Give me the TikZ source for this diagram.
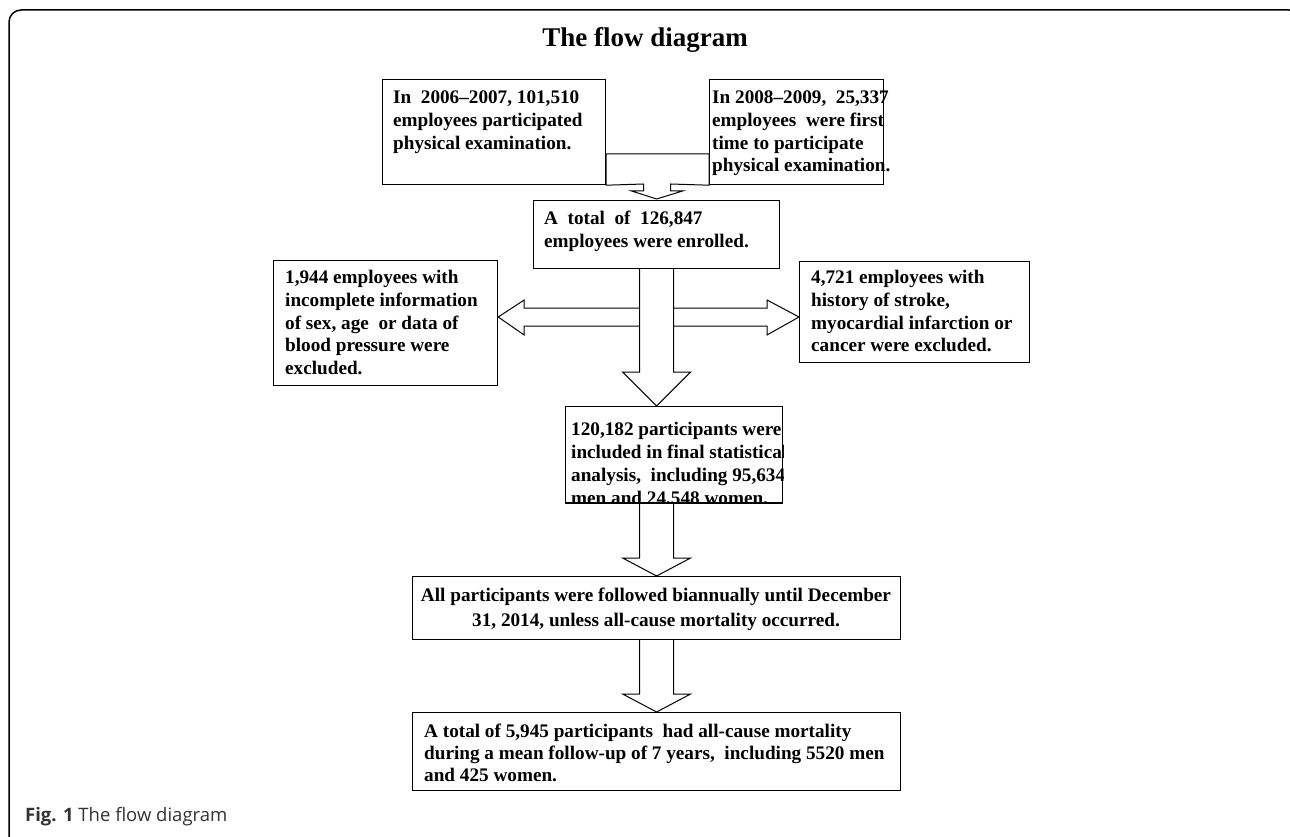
\documentclass[tikz,border=0pt]{standalone}
\usepackage{fontspec}
\setmainfont{Liberation Serif}
\newfontfamily\capfont{Open Sans}
\usetikzlibrary{calc}
\begin{document}
\begin{tikzpicture}[x=1pt,y=-1pt,
  box/.style={draw=black,line width=1.2pt,fill=white,inner sep=0pt,anchor=north west},
  txt/.style={inner sep=0pt,anchor=north west,align=left,font=\fontsize{19.2}{22.7}\selectfont\bfseries},
  blk/.style={draw=black,line width=1pt,fill=white,line join=miter}]
\useasboundingbox (0,0) rectangle (1290,837);
\clip (0,0) rectangle (1290,837);
\fill[white] (0,0) rectangle (1290,837);
\draw[line width=1.5pt,rounded corners=12pt] (9,850) -- (9,10) -- (1301,10) -- (1301,850);

\node[anchor=base,font=\fontsize{27}{30}\selectfont\bfseries] (title) at (645,47) {The flow diagram};

% boxes
\node[box,minimum width=223pt,minimum height=105pt] (a) at (382,79) {};
\node[box,minimum width=174pt,minimum height=105pt] (b) at (709,79) {};
\node[box,minimum width=246pt,minimum height=68pt] (c) at (533,200) {};
\node[box,minimum width=224pt,minimum height=125pt] (e) at (273,260) {};
\node[box,minimum width=230pt,minimum height=101pt] (f) at (799,261) {};
\node[box,minimum width=217pt,minimum height=96pt] (d) at (565,406) {};
\node[box,minimum width=488pt,minimum height=63pt] (g) at (412,576) {};
\node[box,minimum width=488pt,minimum height=78pt] (h) at (412,712) {};

% merge arrow between the two top boxes
\draw[blk] ($(a.north east)+(0,75)$) -- ($(b.north west)+(0,75)$) -- (b.south west)
  -- ($(c.north)+(14,-16)$) -- ($(c.north)+(14,-9)$) -- ($(c.north)+(26,-9)$)
  -- ($(c.north)+(0,-1)$) -- ($(c.north)+(-25,-9)$) -- ($(c.north)+(-13,-9)$)
  -- ($(c.north)+(-13,-16)$) -- (a.south east) -- cycle;

% side arrows
\coordinate (lt) at ($(e.north east)+(0,57)$);
\draw[blk] ($(lt)+(144,-9)$) -- ($(lt)+(26,-9)$) -- ($(lt)+(26,-17)$) -- (lt)
  -- ($(lt)+(26,18)$) -- ($(lt)+(26,9)$) -- ($(lt)+(144,9)$);
\coordinate (rt) at ($(f.north west)+(0,56)$);
\draw[blk] ($(rt)+(-128,-9)$) -- ($(rt)+(-32,-9)$) -- ($(rt)+(-32,-17)$) -- (rt)
  -- ($(rt)+(-32,18)$) -- ($(rt)+(-32,9)$) -- ($(rt)+(-128,9)$);

% central arrow C -> D
\coordinate (cd) at (c.south |- d.north);
\draw[blk] ($(c.south)+(-17,0)$) -- ($(cd)+(-17,-34)$) -- ($(cd)+(-34,-34)$) -- (cd)
  -- ($(cd)+(34,-34)$) -- ($(cd)+(17,-34)$) -- ($(c.south)+(17,0)$);

% D -> G
\coordinate (ds) at (d.south -| g.north);
\draw[blk] ($(ds)+(-17,0)$) -- ($(g.north)+(-17,-18)$) -- ($(g.north)+(-34,-18)$) -- (g.north)
  -- ($(g.north)+(34,-18)$) -- ($(g.north)+(17,-18)$) -- ($(ds)+(17,0)$);

% G -> H
\draw[blk] ($(g.south)+(-17,0)$) -- ($(h.north)+(-17,-18)$) -- ($(h.north)+(-34,-18)$) -- (h.north)
  -- ($(h.north)+(34,-18)$) -- ($(h.north)+(17,-18)$) -- ($(g.south)+(17,0)$);

% texts
\node[txt] (ta) at (393,88.5) {\rule{0pt}{15pt}In~ 2006--2007, 101,510\\employees participated\\physical examination.};
\node[txt] (tb) at (712,88.5) {\rule{0pt}{15pt}In 2008--2009,~ 25,337\\employees~ were first\\time to participate\\physical examination.};
\node[txt] (tc) at (544,209.5) {\rule{0pt}{15pt}A~ total~ of~ 126,847\\employees were enrolled.};
\node[txt] (te) at (285,268.5) {\rule{0pt}{15pt}1,944 employees with\\incomplete information\\of sex, age~ or data of\\blood pressure were\\excluded.};
\node[txt] (tf) at (811,268.5) {\rule{0pt}{15pt}4,721 employees with\\history of stroke,\\myocardial infarction or\\cancer were excluded.};
\begin{scope}
\clip (d.north west) rectangle (d.south east);
\node[txt,font=\fontsize{19.2}{23.2}\selectfont\bfseries] (td) at (571,420) {\rule{0pt}{15pt}120,182 participants were\\included in final statistical\\analysis,~ including 95,634\\men and 24,548 women.};
\end{scope}
\draw[line width=1.2pt] (d.south west) -- (d.south east);
\node[txt,anchor=north,align=center,font=\fontsize{19.2}{24.5}\selectfont\bfseries] (tg) at (656,586.5) {\rule{0pt}{15pt}All participants were followed biannually until December\\31, 2014, unless all-cause mortality occurred.};
\node[txt,font=\fontsize{19.2}{22}\selectfont\bfseries] (th) at (424,722.5) {\rule{0pt}{15pt}A total of 5,945 participants~ had all-cause mortality\\during a mean follow-up of 7 years,~ including 5520 men\\and 425 women.};

\node[anchor=base west,inner sep=0pt,font=\capfont\fontsize{18.5}{21}\selectfont,text=black!80] (cap) at (25,821) {\textbf{Fig. 1} The flow diagram};
\end{tikzpicture}
\end{document}
